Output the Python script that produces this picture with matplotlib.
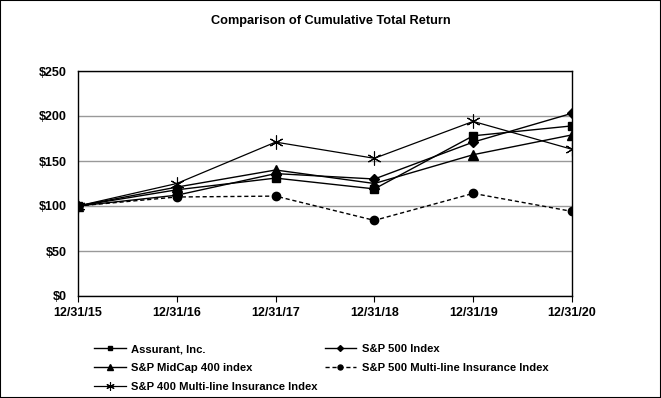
import matplotlib.pyplot as plt
from matplotlib.patches import Rectangle

plt.rcParams['font.family'] = ['Liberation Sans', 'DejaVu Sans']

# data
dates = ["12/31/15", "12/31/16", "12/31/17", "12/31/18", "12/31/19", "12/31/20"]
assurant = [100, 118, 131, 119, 178, 189]
sp500 = [100, 112, 136, 130, 171, 203]
midcap400 = [100, 121, 140, 125, 157, 179]
sp500_multiline = [100, 110, 111, 84, 114, 94]
sp400_multiline = [100, 125, 171, 153, 194, 163]

fig = plt.figure(figsize=(6.61, 3.98), dpi=100)
ax = fig.add_axes([78 / 661, 1 - 296 / 398, (572 - 78) / 661, (296 - 71) / 398])

x = range(len(dates))
h1, = ax.plot(x, assurant, color='black', lw=1, marker='s', ms=6, label='Assurant, Inc.')
h2, = ax.plot(x, sp500, color='black', lw=1, marker='D', ms=5, label='S&P 500 Index')
h3, = ax.plot(x, midcap400, color='black', lw=1, marker='^', ms=7, label='S&P MidCap 400 index')
h4, = ax.plot(x, sp500_multiline, color='black', lw=1, ls=(0, (3, 2)), marker='o', ms=6,
              label='S&P 500 Multi-line Insurance Index')
h5, = ax.plot(x, sp400_multiline, color='black', lw=0.9, marker=(6, 2, 0), ms=10, mew=0.8,
              label='S&P 400 Multi-line Insurance Index')

ax.set_xlim(0, 5)
ax.set_ylim(0, 250)
ax.set_yticks([0, 50, 100, 150, 200, 250])
ax.set_yticklabels(['$%d' % v for v in [0, 50, 100, 150, 200, 250]])
ax.set_xticks(list(x))
ax.set_xticklabels(dates)
ax.yaxis.grid(True, color='#999999', lw=1)
ax.set_axisbelow(True)
ax.tick_params(axis='y', length=0, pad=8, labelsize=9)
ax.tick_params(axis='x', length=4, direction='out', pad=4, labelsize=9)
for lab in ax.get_xticklabels() + ax.get_yticklabels():
    lab.set_fontweight('bold')
for s in ax.spines.values():
    s.set_linewidth(1)

fig.text(0.5, 1 - 21 / 398, 'Comparison of Cumulative Total Return', ha='center', va='center',
         fontsize=9.2, fontweight='bold')

leg = fig.legend([h1, h3, h5, h2, h4],
                 [h.get_label() for h in [h1, h3, h5, h2, h4]],
                 ncol=2, frameon=False, loc='upper left', bbox_to_anchor=(84 / 661, 1 - 334 / 398),
                 fontsize=8.1, handlelength=2.8, columnspacing=0.6, labelspacing=0.78,
                 markerscale=0.6, handletextpad=0.5)
for t in leg.get_texts():
    t.set_fontweight('bold')

fig.patches.append(Rectangle((0, 0), 1, 1, transform=fig.transFigure, fill=False,
                             edgecolor='black', lw=1.5))

fig.savefig('out.png', dpi=100)
